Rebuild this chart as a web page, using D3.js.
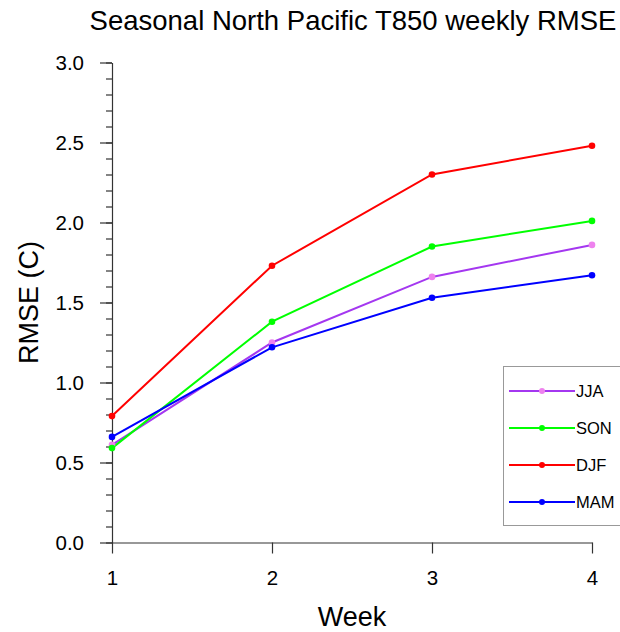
<!DOCTYPE html>
<html>
<head>
<meta charset="utf-8">
<script src="https://cdn.jsdelivr.net/npm/d3@7"></script>
<style>
  html, body { margin: 0; padding: 0; background: #fff; }
  svg { display: block; font-family: "Liberation Sans", Arial, Helvetica, sans-serif; }
</style>
</head>
<body>
<svg id="chart" width="620" height="632"></svg>
<script>
const weeks = [1, 2, 3, 4];
const seasons = ["JJA", "SON", "DJF", "MAM"];
const jja = [0.61, 1.25, 1.66, 1.86];
const son = [0.59, 1.38, 1.85, 2.01];
const djf = [0.79, 1.73, 2.30, 2.48];
const mam = [0.66, 1.22, 1.53, 1.67];
const yTicks = [0.0, 0.5, 1.0, 1.5, 2.0, 2.5, 3.0];
const titleText = "Seasonal North Pacific T850 weekly RMSE";
const xLabel = "Week";
const yLabel = "RMSE (C)";

const series = [
  { name: "JJA", values: jja, line: "#A437F0", marker: "#EE82EE" },
  { name: "SON", values: son, line: "#00FF00", marker: "#00FF00" },
  { name: "DJF", values: djf, line: "#FF0000", marker: "#FF0000" },
  { name: "MAM", values: mam, line: "#0000FF", marker: "#0000FF" }
];

const svg = d3.select("#chart");
const pL = 112, pR = 592, pT = 62.5, pB = 542.5;

const x = d3.scaleLinear().domain([1, 4]).range([pL, pR]);
const y = d3.scaleLinear().domain([0, 3]).range([pB, pT]);

// minor y ticks
const yMinor = d3.axisLeft(y).tickValues(d3.range(0, 3.0001, 0.1).map(v => +v.toFixed(1)))
  .tickSize(6).tickFormat("").tickSizeOuter(0);
svg.append("g").attr("transform", `translate(${pL},0)`).call(yMinor)
  .call(g => g.selectAll("line").attr("stroke", "#333").attr("stroke-width", 1.2))
  .call(g => g.select(".domain").remove());

// major y axis
const yAxis = d3.axisLeft(y).tickValues(yTicks).tickSize(12).tickSizeOuter(0)
  .tickFormat(d3.format(".1f")).tickPadding(16);
svg.append("g").attr("transform", `translate(${pL},0)`).call(yAxis)
  .call(g => g.select(".domain").attr("stroke", "#333").attr("stroke-width", 1.2))
  .call(g => g.selectAll("line").attr("stroke", "#333").attr("stroke-width", 1.2))
  .call(g => g.selectAll("text").attr("font-size", 20.5).attr("fill", "#000")
    .attr("font-family", "'Liberation Sans', Arial, sans-serif"));

// x axis
const xAxis = d3.axisBottom(x).tickValues(weeks).tickSize(11).tickSizeOuter(0)
  .tickFormat(d3.format("d")).tickPadding(17);
svg.append("g").attr("transform", `translate(0,${pB})`).call(xAxis)
  .call(g => g.select(".domain").attr("stroke", "#333").attr("stroke-width", 1.2))
  .call(g => g.selectAll("line").attr("stroke", "#333").attr("stroke-width", 1.2))
  .call(g => g.selectAll("text").attr("font-size", 20.5).attr("fill", "#000")
    .attr("font-family", "'Liberation Sans', Arial, sans-serif"));

// lines
const lineGen = d3.line().x((d, i) => x(weeks[i])).y(d => y(d));
series.forEach(s => {
  svg.append("path").datum(s.values)
    .attr("d", lineGen).attr("fill", "none")
    .attr("stroke", s.line).attr("stroke-width", 2);
});
series.forEach(s => {
  svg.append("g").selectAll("circle").data(s.values).join("circle")
    .attr("cx", (d, i) => x(weeks[i])).attr("cy", d => y(d))
    .attr("r", 3.3).attr("fill", s.marker);
});

// title
svg.append("text").attr("x", (pL + pR) / 2 + 1).attr("y", 30)
  .attr("text-anchor", "middle").attr("font-size", 27.5).attr("fill", "#000")
  .text(titleText);

// axis labels
svg.append("text").attr("x", (pL + pR) / 2).attr("y", 625.5)
  .attr("text-anchor", "middle").attr("font-size", 27).attr("fill", "#000")
  .text(xLabel);
svg.append("text")
  .attr("transform", `translate(38,${(pT + pB) / 2}) rotate(-90)`)
  .attr("text-anchor", "middle").attr("font-size", 27).attr("fill", "#000")
  .text(yLabel);

// legend
const lg = svg.append("g");
lg.append("rect").attr("x", 503.5).attr("y", 366.5).attr("width", 130).attr("height", 159)
  .attr("fill", "#fff").attr("stroke", "#999").attr("stroke-width", 1);
const rowY = d3.scalePoint().domain(seasons).range([391, 502]);
series.forEach(s => {
  const yy = rowY(s.name);
  lg.append("line").attr("x1", 509).attr("x2", 575).attr("y1", yy).attr("y2", yy)
    .attr("stroke", s.line).attr("stroke-width", 2);
  lg.append("circle").attr("cx", 542).attr("cy", yy).attr("r", 3).attr("fill", s.marker);
  lg.append("text").attr("x", 576).attr("y", yy).attr("dy", "0.36em")
    .attr("font-size", 16.5).attr("fill", "#000").text(s.name);
});
</script>
</body>
</html>
